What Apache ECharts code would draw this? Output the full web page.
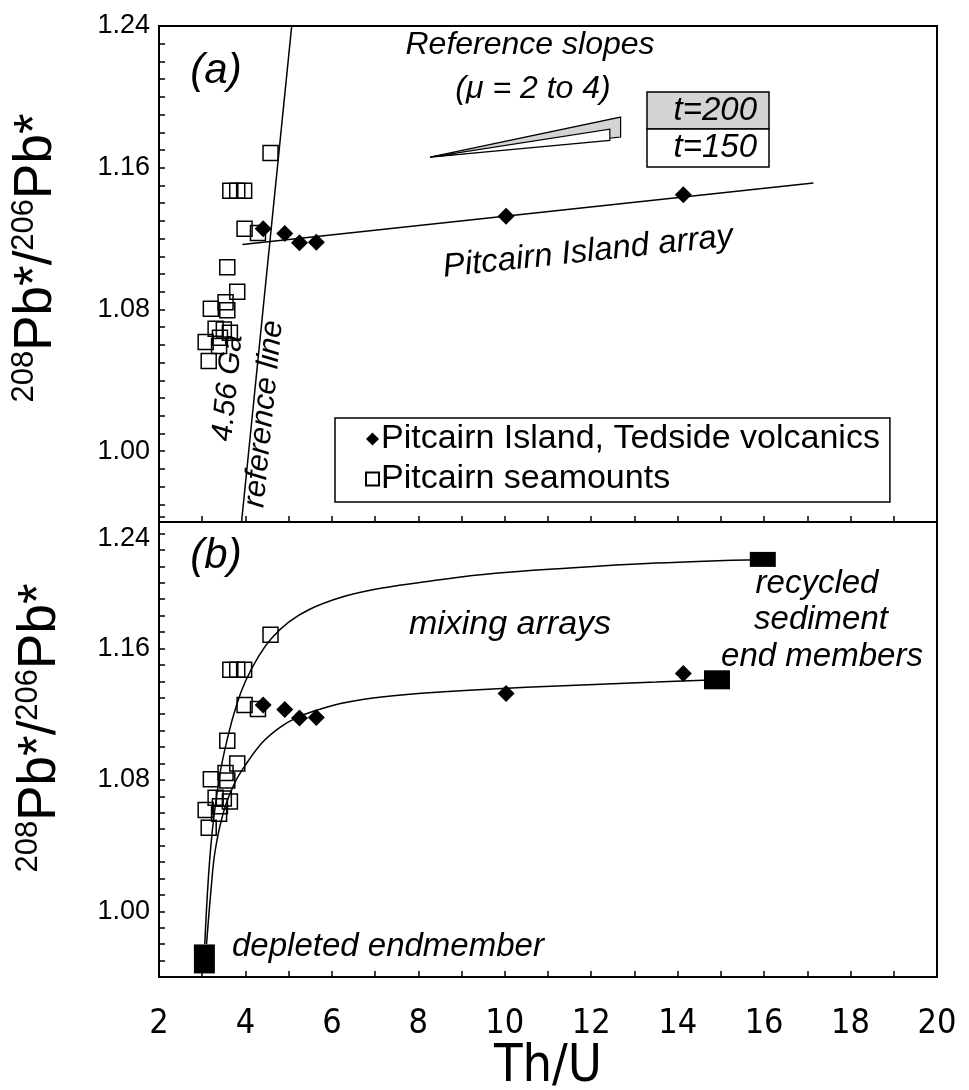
<!DOCTYPE html>
<html>
<head>
<meta charset="utf-8">
<title>Th/U vs 208Pb*/206Pb*</title>
<script src="https://cdn.jsdelivr.net/npm/echarts@6/dist/echarts.min.js"></script>
<style>
  html, body { margin: 0; padding: 0; background: #fff; }
  #chart { width: 969px; height: 1090px; }
</style>
</head>
<body>
<div id="chart"></div>
<script>
// ---- data (Th/U, 208Pb*/206Pb*) ----
const tedsideThU = [4.41, 4.91, 5.25, 5.64, 10.03, 14.13];
const tedsidePb  = [1.1255, 1.1228, 1.1176, 1.1179, 1.1326, 1.1448];

const seamountThU = [4.58, 3.65, 3.81, 3.97, 3.98, 4.29, 3.58, 3.81, 3.54, 3.58, 3.20,
                     3.31, 3.50, 3.64, 3.41, 3.08, 3.39, 3.15];
const seamountPb  = [1.1683, 1.147, 1.147, 1.147, 1.1255, 1.1232, 1.1038, 1.090, 1.0841, 1.0796, 1.0804,
                     1.0691, 1.0687, 1.0669, 1.064, 1.0616, 1.0593, 1.0509];

// Pitcairn Island array (panel a)
const islandArrayThU = [3.93, 17.14];
const islandArrayPb  = [1.1166, 1.1514];

// 4.56 Ga reference line (panel a)
const refLineThU = [3.91, 5.07];
const refLinePb  = [0.96, 1.24];

// reference slope wedges, mu = 2 to 4
const slope200ThU = [8.27, 12.68, 12.68];
const slope200Pb  = [1.166, 1.1886, 1.1773];
const slope150ThU = [8.27, 12.43, 12.43];
const slope150Pb  = [1.166, 1.1818, 1.1754];

// mixing arrays (panel b)
const upperMixThU = [3.06, 3.20, 3.40, 3.60, 3.80, 4.00, 4.30, 4.60, 5.00, 5.50, 6.20, 7.00, 8.00, 9.50, 11.5, 13.5, 15.97];
const upperMixPb  = [0.980, 1.040, 1.082, 1.107, 1.126, 1.140, 1.155, 1.166, 1.176, 1.184, 1.191, 1.196, 1.200, 1.205, 1.209, 1.212, 1.2142];
const lowerMixThU = [3.10, 3.20, 3.30, 3.50, 3.75, 4.00, 4.40, 4.80, 5.20, 5.60, 6.20, 7.00, 8.00, 9.50, 11.5, 13.5, 14.91];
const lowerMixPb  = [0.980, 1.012, 1.037, 1.061, 1.078, 1.089, 1.103, 1.112, 1.118, 1.122, 1.1265, 1.130, 1.1325, 1.135, 1.1375, 1.1395, 1.1409];

// end members (panel b)
const depletedThU = [3.05];
const depletedPb  = [0.971];
const sedimentThU = [15.97, 14.91];
const sedimentPb  = [1.2142, 1.1409];

// axis ticks
const xMin = 2, xMax = 20, xStep = 1;
const yLabelValues = [1.00, 1.08, 1.16, 1.24];

// ---- helpers ----
const zip = (xs, ys) => xs.map((x, i) => [x, ys[i]]);
const SANS = "'Liberation Sans', Arial, Helvetica, sans-serif";
const NARROW = "'Liberation Sans Narrow', 'Arial Narrow', 'DejaVu Sans Condensed', 'Liberation Sans', sans-serif";
const BLACK = '#000';

const yLabelFmt = (pushTop) => (v) => {
  const k = Math.round(v * 100);
  if (!yLabelValues.some(t => Math.round(t * 100) === k)) return '';
  const s = (k / 100).toFixed(2);
  return (pushTop && k === 124) ? '{low|' + s + '}' : s;
};

function makeYAxis(gridIndex, min, pushTop) {
  return {
    type: 'value', gridIndex, min, max: 1.24, interval: 0.01,
    axisLine: { show: true, onZero: false, lineStyle: { color: BLACK, width: 2 } },
    axisTick: { show: true, inside: true, length: 6, lineStyle: { color: BLACK, width: 1.5 } },
    axisLabel: {
      show: true, interval: 0, color: BLACK, fontFamily: SANS, fontSize: 27, margin: 9,
      formatter: yLabelFmt(pushTop),
      rich: { low: { fontFamily: SANS, fontSize: 27, color: BLACK, padding: [44, 0, 0, 0] } }
    },
    splitLine: { show: false }
  };
}

function makeXAxis(gridIndex, showLabels) {
  return {
    type: 'value', gridIndex, min: xMin, max: xMax, interval: xStep,
    axisLine: { show: true, onZero: false, lineStyle: { color: BLACK, width: 2 } },
    axisTick: { show: true, inside: true, length: 6, lineStyle: { color: BLACK, width: 1.5 } },
    axisLabel: {
      show: showLabels, color: BLACK, fontFamily: NARROW, fontSize: 34, margin: 30,
      formatter: v => (Math.round(v) % 2 === 0 ? String(Math.round(v)) : '')
    },
    splitLine: { show: false },
    name: showLabels ? 'Th/U' : '',
    nameLocation: 'middle', nameGap: 64,
    nameTextStyle: { color: BLACK, fontFamily: NARROW, fontSize: 52 }
  };
}

function wedge(xs, ys, fill) {
  return {
    type: 'custom', xAxisIndex: 0, yAxisIndex: 0, silent: true, z: 4,
    data: [[xs[0], ys[0]]],
    renderItem: (params, api) => ({
      type: 'polygon',
      shape: { points: xs.map((x, i) => api.coord([x, ys[i]])) },
      style: { fill, stroke: BLACK, lineWidth: 1.2 }
    })
  };
}

const lineStyle = { color: BLACK, width: 1.5 };
const seamountStyle = { color: 'rgba(0,0,0,0)', borderColor: BLACK, borderWidth: 1.5, opacity: 1 };
const tedsideStyle = { color: BLACK, opacity: 1 };
const solidStyle = { color: BLACK, opacity: 1 };

function seamountSeries(ax) {
  return { name: 'Pitcairn seamounts', type: 'scatter', xAxisIndex: ax, yAxisIndex: ax,
    symbol: 'rect', symbolSize: 15, itemStyle: seamountStyle, z: 5,
    data: zip(seamountThU, seamountPb) };
}
function tedsideSeries(ax) {
  return { name: 'Pitcairn Island, Tedside volcanics', type: 'scatter', xAxisIndex: ax, yAxisIndex: ax,
    symbol: 'diamond', symbolSize: 17, itemStyle: tedsideStyle, z: 6,
    data: zip(tedsideThU, tedsidePb) };
}

function note(text, x, y, size, opts) {
  const o = opts || {};
  return {
    type: 'text', x, y, z: 20, rotation: o.rotation || 0,
    style: { text, fontFamily: SANS, fontStyle: 'italic', fontSize: size, fill: BLACK,
             align: o.align || 'center', verticalAlign: 'middle' }
  };
}

const yTitle = (x, y) => ({
  type: 'text', x, y, rotation: Math.PI / 2, z: 20,
  style: {
    text: '{s|208}{b|Pb*/}{s|206}{b|Pb*}',
    align: 'center', verticalAlign: 'middle',
    rich: {
      s: { fontFamily: SANS, fontSize: 31, fill: BLACK, verticalAlign: 'top', lineHeight: 54 },
      b: { fontFamily: SANS, fontSize: 53, fill: BLACK, verticalAlign: 'bottom', lineHeight: 54 }
    }
  }
});

const chart = echarts.init(document.getElementById('chart'), null, { renderer: 'canvas' });

chart.setOption({
  animation: false,
  backgroundColor: '#fff',
  grid: [
    { left: 159, right: 32, top: 26, height: 496, outerBoundsMode: 'none', containLabel: false,
      show: true, borderColor: BLACK, borderWidth: 2, backgroundColor: 'transparent' },
    { left: 159, right: 32, top: 517, height: 460, outerBoundsMode: 'none', containLabel: false }
  ],
  xAxis: [makeXAxis(0, false), makeXAxis(1, true)],
  yAxis: [
    makeYAxis(0, 0.96, false),
    makeYAxis(1, 0.96, true),
    { type: 'value', gridIndex: 1, position: 'right', min: 0.96, max: 1.24,
      axisLine: { show: true, onZero: false, lineStyle: { color: BLACK, width: 2 } },
      axisTick: { show: false }, axisLabel: { show: false }, splitLine: { show: false } }
  ],
  legend: {
    left: 335, top: 418, orient: 'vertical',
    data: ['Pitcairn Island, Tedside volcanics', 'Pitcairn seamounts'],
    itemWidth: 13, itemHeight: 13, itemGap: 6,
    padding: [4, 10, 6, 30],
    borderColor: BLACK, borderWidth: 1.5, backgroundColor: '#fff',
    textStyle: { fontFamily: SANS, fontSize: 34, color: BLACK, padding: [0, 0, 0, -3] },
    selectedMode: false
  },
  series: [
    // panel (a)
    { type: 'line', xAxisIndex: 0, yAxisIndex: 0, data: zip(refLineThU, refLinePb),
      showSymbol: false, lineStyle, silent: true, z: 3 },
    { type: 'line', xAxisIndex: 0, yAxisIndex: 0, data: zip(islandArrayThU, islandArrayPb),
      showSymbol: false, lineStyle, silent: true, z: 3 },
    wedge(slope200ThU, slope200Pb, '#d4d4d4'),
    wedge(slope150ThU, slope150Pb, '#fff'),
    seamountSeries(0),
    tedsideSeries(0),
    // panel (b)
    { type: 'line', xAxisIndex: 1, yAxisIndex: 1, data: zip(upperMixThU, upperMixPb),
      showSymbol: false, smooth: 0.4, lineStyle, silent: true, z: 3 },
    { type: 'line', xAxisIndex: 1, yAxisIndex: 1, data: zip(lowerMixThU, lowerMixPb),
      showSymbol: false, smooth: 0.4, lineStyle, silent: true, z: 3 },
    seamountSeries(1),
    tedsideSeries(1),
    { type: 'scatter', xAxisIndex: 1, yAxisIndex: 1, symbol: 'rect', symbolSize: [21, 29],
      itemStyle: solidStyle, z: 7, data: zip(depletedThU, depletedPb) },
    { type: 'scatter', xAxisIndex: 1, yAxisIndex: 1, symbol: 'rect',
      symbolSize: (v, p) => (p.dataIndex === 0 ? [26, 15] : [26, 19]),
      itemStyle: solidStyle, z: 7, data: zip(sedimentThU, sedimentPb) }
  ],
  graphic: [
    yTitle(36, 258),
    yTitle(40, 728),
    note('(a)', 216, 71, 42),
    note('(b)', 216, 556, 42),
    note('Reference slopes', 530, 45, 32),
    note('(\u03bc = 2 to 4)', 533, 89, 32),
    { type: 'rect', shape: { x: 647, y: 92, width: 122, height: 37 }, z: 18,
      style: { fill: '#d4d4d4', stroke: BLACK, lineWidth: 1.5 } },
    { type: 'rect', shape: { x: 647, y: 129, width: 122, height: 38 }, z: 18,
      style: { fill: '#fff', stroke: BLACK, lineWidth: 1.5 } },
    note('t=200', 757, 111, 33, { align: 'right' }),
    note('t=150', 757, 148, 33, { align: 'right' }),
    note('Pitcairn Island array', 588, 252, 33, { rotation: 0.107 }),
    note('4.56 Ga', 228, 388, 30, { rotation: 1.471 }),
    note('reference line', 264, 414, 31, { rotation: 1.471 }),
    note('mixing arrays', 510, 625, 34),
    note('recycled', 817, 584, 33),
    note('sediment', 821, 620, 33),
    note('end members', 822, 657, 33),
    note('depleted endmember', 232, 947, 33, { align: 'left' })
  ]
});
</script>
</body>
</html>
